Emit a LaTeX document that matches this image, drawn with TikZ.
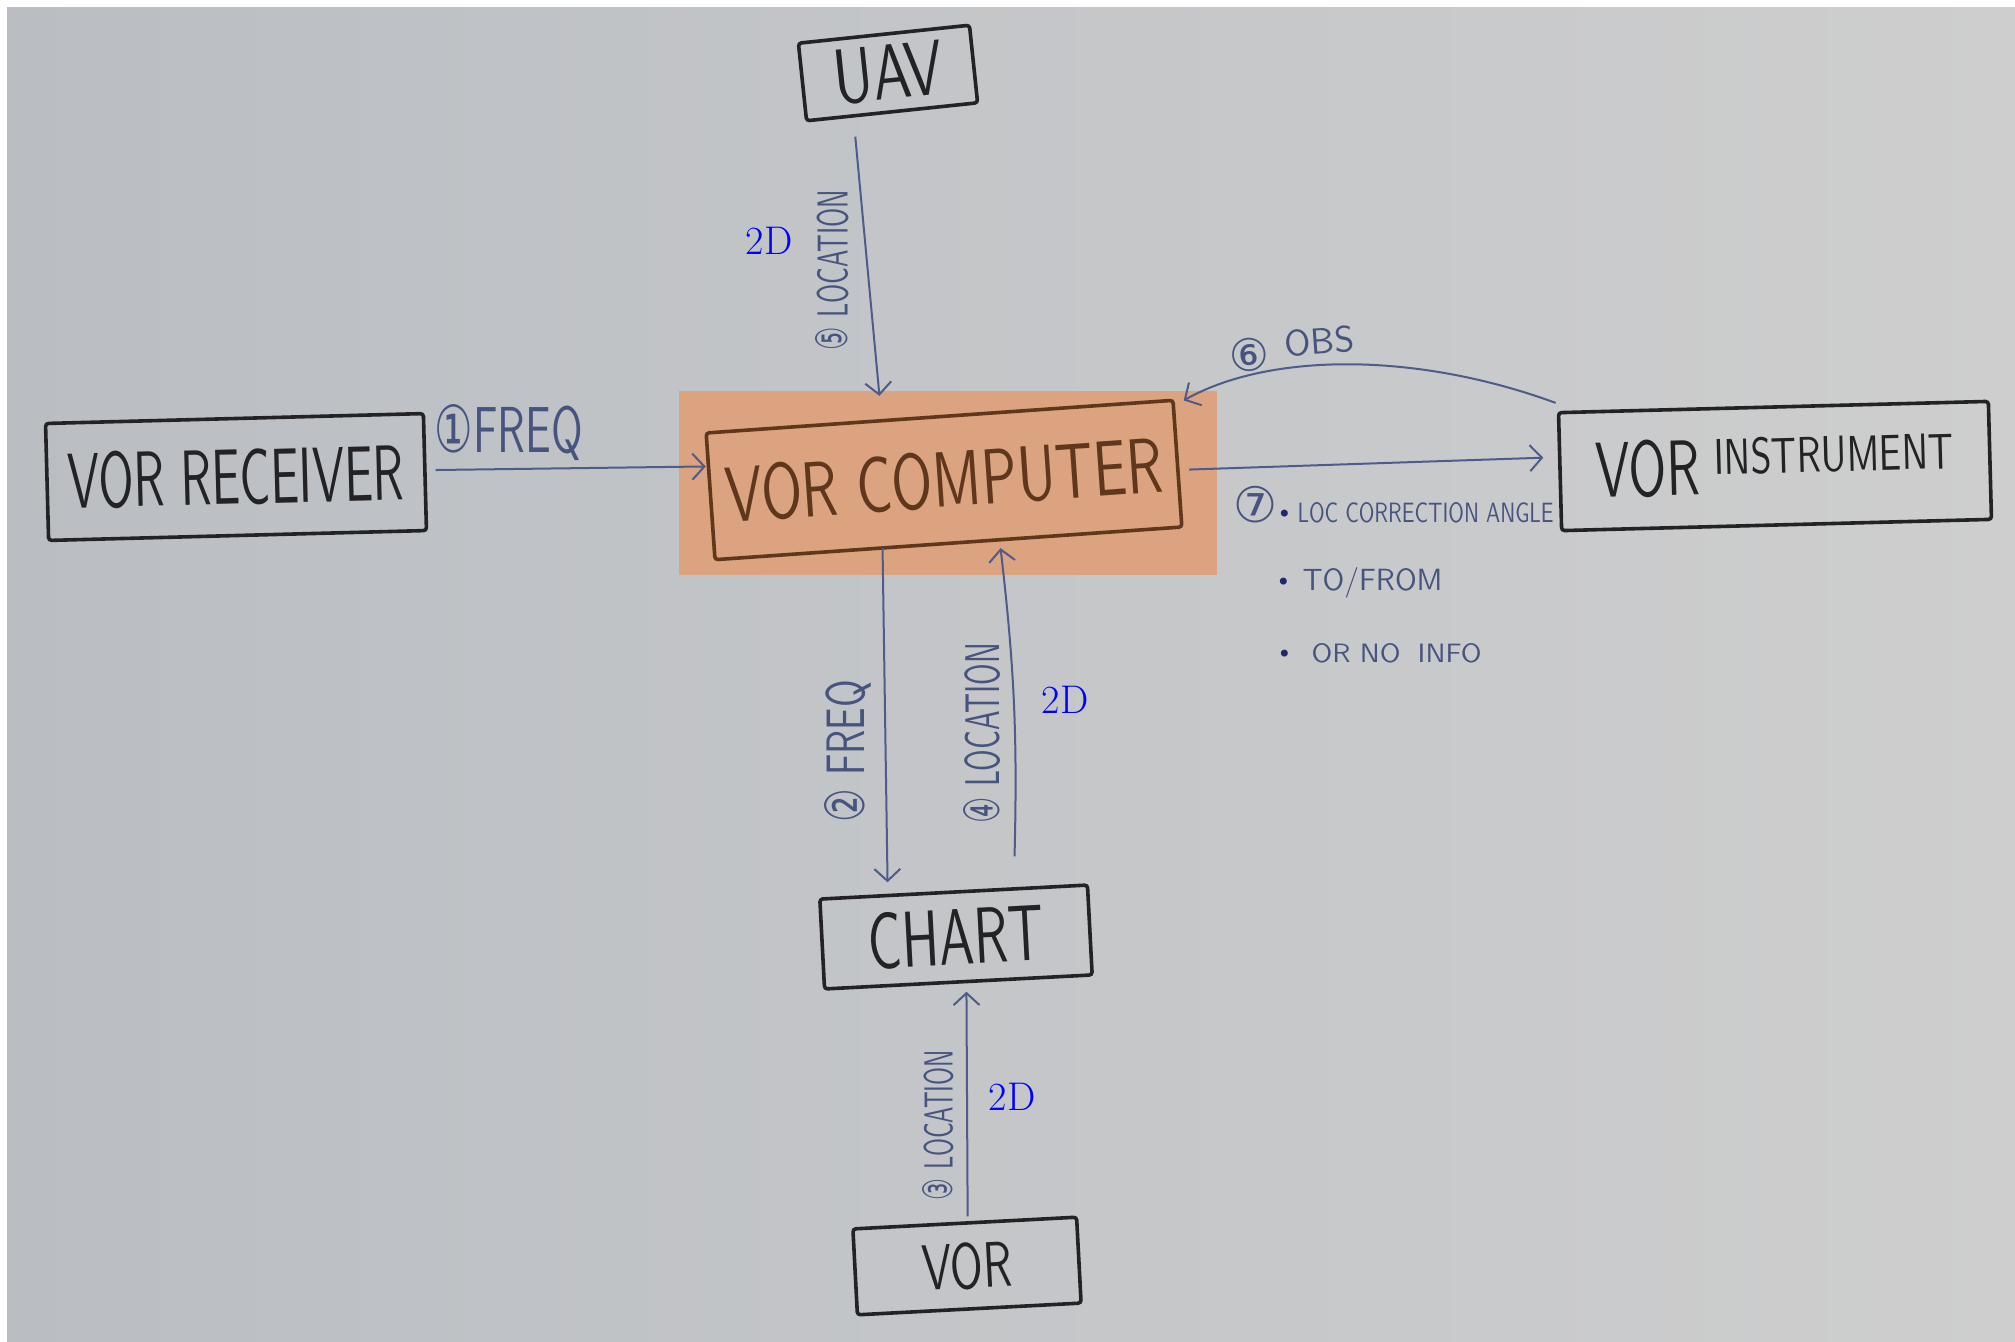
\documentclass[tikz,border=0pt]{standalone}
\usepackage{fontspec}
\usetikzlibrary{arrows.meta,calc}
\newcommand{\hwf}{\sffamily}
\newfontfamily\dvf{DejaVu Sans}
\newcommand{\hw}[3]{\resizebox{#1}{#2}{\hwf #3}}
\definecolor{ink}{RGB}{35,35,38}
\definecolor{brownink}{RGB}{95,55,28}
\definecolor{blueink}{RGB}{72,84,128}
\definecolor{lineblue}{RGB}{78,92,140}
\definecolor{bulletblue}{RGB}{30,40,110}
\definecolor{hl}{RGB}{219,163,128}
\definecolor{bgL}{RGB}{186,190,195}
\definecolor{bgM}{RGB}{200,202,203}
\definecolor{bgR}{RGB}{206,206,206}
\definecolor{twod}{RGB}{0,0,255}
\begin{document}
\begin{tikzpicture}[x=0.5pt,y=-0.5pt,
 box/.style={draw=ink, line width=1.8pt, inner sep=0pt, text=ink, rounded corners=1.5pt},
 lbl/.style={text=blueink, inner sep=0pt},
 conn/.style={draw=lineblue, line width=1pt, -{Straight Barb[length=6pt,width=13pt]}},
 twodlbl/.style={text=twod, font=\fontsize{20pt}{20pt}\selectfont, inner sep=0pt}]
\useasboundingbox (0,0) rectangle (2015,1341);
\fill[white] (0,0) rectangle (2015,1341);
\shade[left color=bgL, middle color=bgM, right color=bgR] (7,7) rectangle (2015,1341);
% highlight
\fill[hl] (679,391) rectangle (1217,575);
% boxes
\node[box, rotate=6, minimum width=86pt, minimum height=39pt] (uav) at (888,73) {\hw{55pt}{27pt}{UAV}};
\node[box, rotate=1.5, minimum width=189pt, minimum height=58.5pt] (rcv) at (236,477) {\hw{168pt}{28pt}{VOR RECEIVER}};
\node[box, draw=brownink, text=brownink, rotate=4, minimum width=234pt, minimum height=63.5pt] (comp) at (944,480) {\hw{219pt}{28pt}{VOR COMPUTER}};
\node[box, rotate=1.5, minimum width=215pt, minimum height=59pt] (instr) at (1775,466) {\hw{52pt}{28pt}{VOR}\hspace{7pt}\raisebox{10pt}{\hw{120pt}{18pt}{INSTRUMENT}}};
\node[box, rotate=3, minimum width=134pt, minimum height=45pt] (chart) at (956,937) {\hw{88pt}{28pt}{CHART}};
\node[box, rotate=3, minimum width=112pt, minimum height=43pt] (vor) at (967,1266) {\hw{45pt}{23pt}{VOR}};
% connectors
\draw[conn] ($(uav.south)+(-37,23)$) -- ($(comp.north)+(-60,-19)$);
\draw[conn] ($(rcv.east)+(9,-2)$) -- ($(comp.west)+(-3,-30)$);
\draw[conn] ($(comp.east)+(10,6)$) -- ($(instr.west)+(-15,-14)$);
\draw[conn] ($(instr.north west)+(-1,-8)$) .. controls (1417,352) and (1270,352) .. ($(comp.north east)+(9,2)$);
\draw[conn] ($(comp.south)+(-66,3)$) -- ($(chart.north)+(-66,-8)$);
\draw[conn] ($(chart.north)+(61,-34)$) to[bend right=4] ($(comp.south)+(52,3)$);
\draw[conn] ($(vor.north)+(3,-5)$) -- ($(chart.south)+(8,8)$);
% labels
\node[lbl] (l1) at (509,433) {\hw{74pt}{24pt}{{\dvf ①}FREQ}};
\node[lbl, rotate=90] (l5) at (832,270) {\hw{80pt}{16pt}{{\dvf ⑤} LOCATION}};
\node[lbl, rotate=90] (l2) at (848,751) {\hw{71pt}{20pt}{{\dvf ②} FREQ}};
\node[lbl, rotate=90] (l4) at (982,733) {\hw{90pt}{18pt}{{\dvf ④} LOCATION}};
\node[lbl, rotate=90] (l3) at (938,1125) {\hw{75pt}{15pt}{{\dvf ③} LOCATION}};
\node[lbl, rotate=4] (l6) at (1292,349) {\resizebox{20pt}{!}{\dvf ⑥}\hspace{8pt}\raisebox{6pt}{\hw{35pt}{13pt}{OBS}}};
\node[lbl, anchor=base west] (l7) at (1233,522) {\resizebox{22pt}{!}{\dvf ⑦}{\color{bulletblue}\dvf\fontsize{12pt}{12pt}\selectfont •}\hspace{3pt}\hw{128pt}{10pt}{LOC CORRECTION ANGLE}};
\node[lbl, anchor=base west] (lt) at (1276,590) {{\color{bulletblue}\dvf\fontsize{12pt}{12pt}\selectfont •}\hspace{6pt}\hw{70pt}{11.5pt}{TO/FROM}};
\node[lbl, anchor=base west] (lo) at (1277,662) {{\color{bulletblue}\dvf\fontsize{12pt}{12pt}\selectfont •}\hspace{10pt}\hw{85pt}{9.5pt}{OR NO\hspace{0.6em}INFO}};
% 2D labels
\node[twodlbl] (d1) at (769,241) {2D};
\node[twodlbl] (d2) at (1065,700) {2D};
\node[twodlbl] (d3) at (1012,1097) {2D};
\end{tikzpicture}
\end{document}
